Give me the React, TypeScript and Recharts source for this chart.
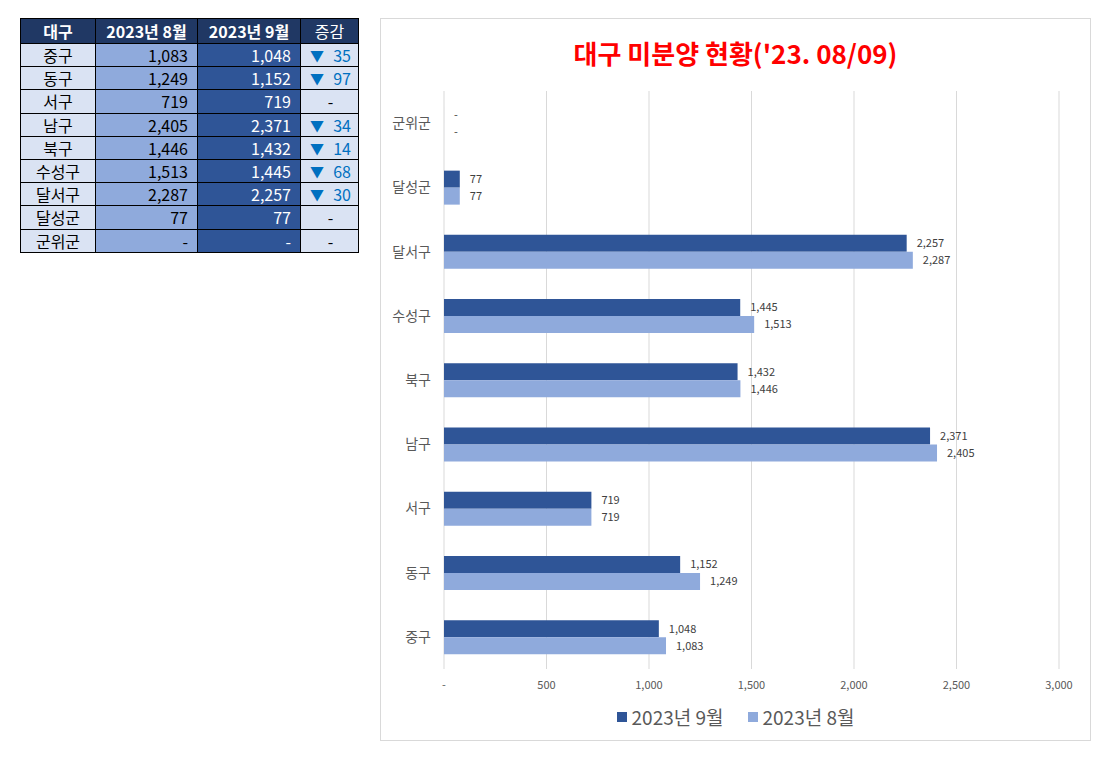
import React from "react";
import {
  BarChart,
  Bar,
  XAxis,
  YAxis,
  CartesianGrid,
  LabelList,
} from "recharts";

// 대구 구·군별 미분양 (table order, top to bottom)
const districts = ["중구", "동구", "서구", "남구", "북구", "수성구", "달서구", "달성군", "군위군"];
const aug2023 = [1083, 1249, 719, 2405, 1446, 1513, 2287, 77, 0];
const sep2023 = [1048, 1152, 719, 2371, 1432, 1445, 2257, 77, 0];
const xTicks = [0, 500, 1000, 1500, 2000, 2500, 3000];

const SEP_COLOR = "#2f5597";
const AUG_COLOR = "#8faadc";
const FONT = '"Noto Sans CJK KR", "Noto Sans", sans-serif';

const fmt = (v: number) => (v === 0 ? "-" : v.toLocaleString("en-US"));

const chartData = districts.map((name, i) => ({
  name,
  sep: sep2023[i],
  aug: aug2023[i],
}));

const legendItems = [
  { label: "2023년 9월", color: SEP_COLOR },
  { label: "2023년 8월", color: AUG_COLOR },
];

function SummaryTable() {
  const border = "1px solid #000";
  const cell: React.CSSProperties = {
    border,
    padding: "0 9px",
    fontSize: 16,
    lineHeight: "20px",
    whiteSpace: "nowrap",
  };
  return (
    <table
      style={{
        position: "absolute",
        left: 20,
        top: 18,
        width: 338,
        borderCollapse: "collapse",
        tableLayout: "fixed",
        fontFamily: FONT,
      }}
    >
      <colgroup>
        <col style={{ width: 75 }} />
        <col style={{ width: 102 }} />
        <col style={{ width: 103 }} />
        <col style={{ width: 58 }} />
      </colgroup>
      <thead>
        <tr style={{ height: 25 }}>
          {["대구", "2023년 8월", "2023년 9월"].map((h) => (
            <th
              key={h}
              style={{ ...cell, padding: 0, background: "#203864", color: "#fff", fontWeight: 700, textAlign: "center" }}
            >
              {h}
            </th>
          ))}
          <th style={{ ...cell, padding: 0, background: "#203864", color: "#fff", fontWeight: 400, textAlign: "center" }}>
            증감
          </th>
        </tr>
      </thead>
      <tbody>
        {districts.map((d, i) => {
          const diff = aug2023[i] - sep2023[i];
          return (
            <tr key={d} style={{ height: 23.2 }}>
              <td style={{ ...cell, padding: 0, background: "#dae3f3", color: "#000", textAlign: "center" }}>{d}</td>
              <td style={{ ...cell, background: "#8faadc", color: "#000", textAlign: "right" }}>{fmt(aug2023[i])}</td>
              <td style={{ ...cell, background: SEP_COLOR, color: "#fff", textAlign: "right" }}>{fmt(sep2023[i])}</td>
              <td
                style={{
                  ...cell,
                  padding: "0 7px 0 9px",
                  background: "#dae3f3",
                  color: "#0070c0",
                  textAlign: diff ? "right" : "center",
                }}
              >
                {diff ? (
                  <span style={{ display: "flex", justifyContent: "space-between" }}>
                    <span style={{ fontSize: 14 }}>▼</span>
                    <span>{diff}</span>
                  </span>
                ) : (
                  <span style={{ color: "#000" }}>-</span>
                )}
              </td>
            </tr>
          );
        })}
      </tbody>
    </table>
  );
}

export default function App() {
  return (
    <div style={{ position: "absolute", left: 0, top: 0, width: 1108, height: 758, background: "#fff", fontFamily: FONT }}>
      <SummaryTable />
      <div
        style={{
          position: "absolute",
          left: 380,
          top: 18,
          width: 711,
          height: 723,
          boxSizing: "border-box",
          border: "1px solid #d9d9d9",
          background: "#fff",
        }}
      >
        <div
          style={{
            position: "absolute",
            left: 0,
            right: 0,
            top: 17,
            textAlign: "center",
            color: "#ff0000",
            fontWeight: 700,
            fontSize: 26,
            lineHeight: "34px",
          }}
        >
          대구 미분양 현황('23. 08/09)
        </div>
        <div style={{ position: "absolute", left: -1, top: -1 }}>
          <BarChart
            width={711}
            height={723}
            data={chartData}
            layout="vertical"
            margin={{ top: 73, right: 32, bottom: 42, left: 4 }}
            barCategoryGap="24%"
            barGap={0}
          >
            <CartesianGrid horizontal={false} stroke="#d9d9d9" />
            <XAxis
              type="number"
              domain={[0, 3000]}
              ticks={xTicks}
              tickFormatter={fmt}
              axisLine={false}
              tickLine={false}
              tickMargin={6}
              height={30}
              interval={0}
              tick={{ fontSize: 11, fill: "#595959", fontFamily: FONT }}
            />
            <YAxis
              type="category"
              dataKey="name"
              reversed
              width={60}
              axisLine={false}
              tickLine={false}
              tickMargin={7}
              interval={0}
              tick={{ fontSize: 14, fill: "#595959", fontFamily: FONT }}
            />
            <Bar dataKey="sep" name="2023년 9월" fill={SEP_COLOR} minPointSize={0.01} isAnimationActive={false}>
              <LabelList
                dataKey="sep"
                position="right"
                offset={10}
                formatter={(v: number) => fmt(v)}
                style={{ fontSize: 11, fill: "#404040", fontFamily: FONT }}
              />
            </Bar>
            <Bar dataKey="aug" name="2023년 8월" fill={AUG_COLOR} minPointSize={0.01} isAnimationActive={false}>
              <LabelList
                dataKey="aug"
                position="right"
                offset={10}
                formatter={(v: number) => fmt(v)}
                style={{ fontSize: 11, fill: "#404040", fontFamily: FONT }}
              />
            </Bar>
          </BarChart>
        </div>
        <div
          style={{
            position: "absolute",
            left: 0,
            right: 0,
            top: 685,
            display: "flex",
            justifyContent: "center",
            gap: 24,
            fontSize: 19,
            color: "#595959",
            lineHeight: "26px",
          }}
        >
          {legendItems.map((it) => (
            <span key={it.label} style={{ display: "flex", alignItems: "center" }}>
              <span style={{ width: 10, height: 10, background: it.color, marginRight: 5, display: "inline-block" }} />
              {it.label}
            </span>
          ))}
        </div>
      </div>
    </div>
  );
}
